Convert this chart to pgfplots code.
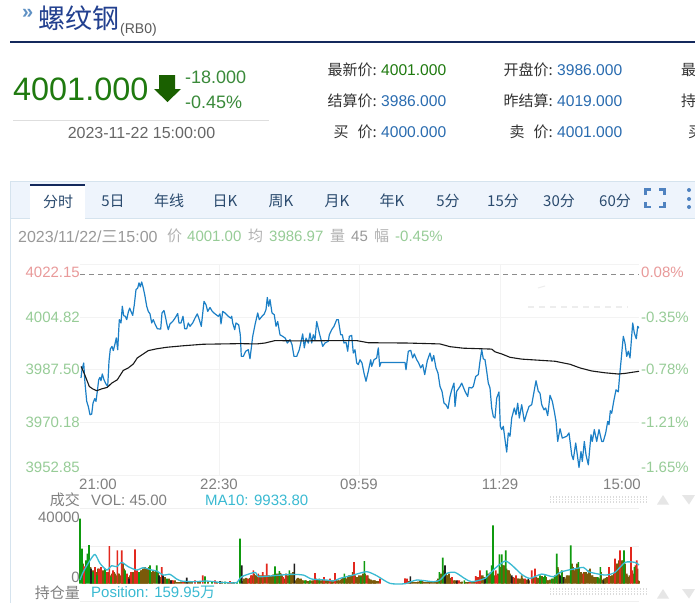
\documentclass[border=0pt]{standalone}
\usepackage{fontspec}
\usepackage{pgfplots}
\pgfplotsset{compat=1.18}
\setmainfont{Liberation Sans}
\newfontfamily\cjk{Noto Sans CJK SC}
\definecolor{navy}{HTML}{14295C}
\definecolor{titleblue}{HTML}{22408F}
\definecolor{upg}{HTML}{1F7A0F}
\definecolor{dg}{HTML}{1A6000}
\definecolor{midg}{HTML}{3A8A3A}
\definecolor{valblue}{HTML}{2A6CB0}
\definecolor{lblack}{HTML}{333333}
\definecolor{tabtxt}{HTML}{2A4A6E}
\definecolor{lgreen}{HTML}{97CC97}
\definecolor{lred}{HTML}{E99A9A}
\definecolor{gtxt}{HTML}{999999}
\definecolor{ctxt}{HTML}{808080}
\definecolor{cy}{HTML}{3ABAD2}
\definecolor{bred}{HTML}{E2281E}
\definecolor{bgreen}{HTML}{0F9A0F}
\definecolor{bblack}{HTML}{1E1E1E}
\definecolor{bolive}{HTML}{7A5A0A}
\definecolor{lineblue}{HTML}{1B7FC6}
\definecolor{tabbg}{HTML}{EEF4FC}
\definecolor{gridc}{HTML}{F3F3F3}
\definecolor{gridd}{HTML}{F0F0F0}
\definecolor{bd}{HTML}{D5E3EE}
\definecolor{ic}{HTML}{4F82C0}
\definecolor{tri}{HTML}{E6E6E6}
\newcommand{\fs}[1]{\fontsize{#1}{#1}\selectfont}
\newcommand{\tx}[6]{\node[anchor=#1,text=#5,inner sep=0pt] at (#2pt,-#3pt) {\fs{#4}#6};}
\newcommand{\rz}[2]{\raisebox{#1}[0pt][0pt]{#2}}
\begin{document}
\begin{tikzpicture}[x=1pt,y=1pt]
\path[use as bounding box,clip] (0,0) rectangle (695,-603);
\fill[white] (0,0) rectangle (695,-603);
% header
\tx{west}{22}{13.5}{20}{valblue!75}{\bfseries »}
\tx{west}{38}{18}{27}{titleblue}{\cjk 螺纹钢}
\tx{west}{120}{30}{14}{black!65}{(RB0)}
\fill[navy] (10,-41) rectangle (695,-43);
\tx{west}{13}{89}{32.4}{upg}{4001.000}
\fill[dg] (159,-75) -- (175,-75) -- (175,-89) -- (181,-89) -- (167.5,-102) -- (154,-89) -- (159,-89) -- cycle;
\tx{west}{185}{77}{18}{midg}{-18.000}
\tx{west}{185}{102}{18}{midg}{-0.45\%}
\draw[black!13,line width=.8pt] (13,-120.5) -- (269,-120.5);
\tx{center}{141.5}{132.5}{16}{black!60}{2023-11-22 15:00:00}
% info table
\tx{east}{377}{70}{15}{lblack}{\cjk 最新价:}
\tx{east}{377}{101}{15}{lblack}{\cjk 结算价:}
\tx{east}{377}{132}{15}{lblack}{\cjk 买\hspace{9pt}价:}
\tx{west}{381}{70.5}{15.6}{upg}{4001.000}
\tx{west}{381}{101.5}{15.6}{valblue}{3986.000}
\tx{west}{381}{132.5}{15.6}{valblue}{4000.000}
\tx{east}{553}{70}{15}{lblack}{\cjk 开盘价:}
\tx{east}{553}{101}{15}{lblack}{\cjk 昨结算:}
\tx{east}{553}{132}{15}{lblack}{\cjk 卖\hspace{9pt}价:}
\tx{west}{557}{70.5}{15.6}{valblue}{3986.000}
\tx{west}{557}{101.5}{15.6}{valblue}{4019.000}
\tx{west}{557}{132.5}{15.6}{valblue}{4001.000}
\tx{west}{681}{70}{15}{lblack}{\cjk 最}
\tx{west}{681}{101}{15}{lblack}{\cjk 持}
\tx{west}{688}{132}{15}{lblack}{\cjk 买}
% tabs
\fill[tabbg] (10,-181) rectangle (695,-218);
\draw[bd,line width=.8pt] (695,-181) -- (10.5,-181) -- (10.5,-603);
\draw[bd,line width=.8pt] (10.5,-218.5) -- (695,-218.5);
\fill[white] (30,-184) rectangle (85,-219);
\fill[navy] (30,-183.5) rectangle (85,-185.5);
\tx{center}{58}{202}{15}{tabtxt}{\cjk 分时}
\tx{center}{113}{201}{15}{tabtxt}{\cjk 5日}
\tx{center}{169}{201}{15}{tabtxt}{\cjk 年线}
\tx{center}{225}{201}{15}{tabtxt}{\cjk 日K}
\tx{center}{281}{201}{15}{tabtxt}{\cjk 周K}
\tx{center}{337}{201}{15}{tabtxt}{\cjk 月K}
\tx{center}{392}{201}{15}{tabtxt}{\cjk 年K}
\tx{center}{448}{201}{15}{tabtxt}{\cjk 5分}
\tx{center}{503}{201}{15}{tabtxt}{\cjk 15分}
\tx{center}{559}{201}{15}{tabtxt}{\cjk 30分}
\tx{center}{615}{201}{15}{tabtxt}{\cjk 60分}
\draw[ic,line width=2.2pt] (645.5,-195) -- (645.5,-189.5) -- (651,-189.5);
\draw[ic,line width=2.2pt] (659,-189.5) -- (664.5,-189.5) -- (664.5,-195);
\draw[ic,line width=2.2pt] (645.5,-202) -- (645.5,-207) -- (651,-207);
\draw[ic,line width=2.2pt] (659,-207) -- (664.5,-207) -- (664.5,-202);
\fill[ic] (689,-190) circle (2); \fill[ic] (689,-199) circle (2); \fill[ic] (689,-207) circle (2);
% info line
\tx{west}{18}{236.5}{16}{gtxt}{2023/11/22/{\cjk 三}15:00}
\tx{west}{167}{236}{15}{black!30}{\cjk 价}
\tx{west}{187}{236.5}{15}{lgreen}{4001.00}
\tx{west}{248}{236}{15}{black!30}{\cjk 均}
\tx{west}{269}{236.5}{15}{lgreen}{3986.97}
\tx{west}{330}{236}{15}{black!30}{\cjk 量}
\tx{west}{351}{236.5}{15}{gtxt}{45}
\tx{west}{374}{236}{15}{black!30}{\cjk 幅}
\tx{west}{395}{236.5}{15}{lgreen}{-0.45\%}
% faint marks in the picture, hatch decoration and triangles
\draw[black!7,line width=1.5pt,dash pattern=on 6pt off 5pt] (528,-307) -- (628,-307);
\draw[black!7,line width=1pt] (538,-288) -- (545,-286);
\foreach \yy in {-497,-499.5,-502,-589,-591.5,-594}{\draw[black!14,line width=1.2pt,dash pattern=on 1.3pt off 1.7pt] (550,\yy) -- (647,\yy);}
\fill[tri] (663,-495) -- (669,-504.5) -- (657,-504.5) -- cycle;
\fill[tri] (682,-495) -- (695,-495) -- (689,-504.5) -- cycle;
\fill[tri] (663,-589) -- (669,-598.5) -- (657,-598.5) -- cycle;
\fill[tri] (682,-589) -- (695,-589) -- (689,-598.5) -- cycle;
% volume panel captions
\tx{east}{80}{500}{15}{ctxt}{\cjk 成交}
\tx{west}{91}{500}{15}{ctxt}{VOL: 45.00}
\tx{west}{205}{500}{15}{cy}{MA10: 9933.80}
\tx{east}{80}{592.5}{15}{ctxt}{\cjk 持仓量}
\tx{west}{91}{592.5}{15}{cy}{Position: 159.95{\cjk 万}}

% right-hand percent labels
\begin{axis}[at={(80pt,-475pt)},anchor=south west,width=559pt,height=210.5pt,scale only axis,
  xmin=0,xmax=559,ymin=3952.85,ymax=4022.15,
  axis line style={draw=none},major tick length=0pt,xtick=\empty,
  ytick={3952.85,3970.18,3987.50,4004.82,4022.15},
  yticklabel pos=right,
  yticklabel style={inner sep=0pt,xshift=2pt},
  yticklabels={\rz{2.6pt}{\textcolor{lgreen}{\fs{15}-1.65\%}},\textcolor{lgreen}{\fs{15}-1.21\%},\textcolor{lgreen}{\fs{15}-0.78\%},\textcolor{lgreen}{\fs{15}-0.35\%},\rz{-12.9pt}{\textcolor{lred}{\fs{15}0.08\%}}}]
\end{axis}

% price panel
\begin{axis}[at={(80pt,-475pt)},anchor=south west,width=559pt,height=210.5pt,scale only axis,
  xmin=0,xmax=559,ymin=3952.85,ymax=4022.15,
  axis line style={draw=none},major tick length=0pt,
  grid=major,grid style={line width=.7pt,gridc},
  xtick={139,279,420},xticklabels={22:30,09:59,11:29},
  extra x ticks={18,542},extra x tick labels={21:00,15:00},extra x tick style={grid=none},
  xticklabel style={text=ctxt,font=\fs{15},inner sep=0pt,yshift=-3.5pt},
  ytick={3952.85,3970.18,3987.50,4004.82,4022.15},
  yticklabel style={inner sep=0pt,xshift=0pt},
  yticklabels={\rz{2.6pt}{\textcolor{lgreen}{\fs{15}3952.85}},\textcolor{lgreen}{\fs{15}3970.18},\textcolor{lgreen}{\fs{15}3987.50},\textcolor{lgreen}{\fs{15}4004.82},\rz{-12.9pt}{\textcolor{lred}{\fs{15}4022.15}}}]
\addplot[black!45,line width=.8pt,dash pattern=on 5pt off 4pt] coordinates {(0,4019)(559,4019)};
\addplot[lineblue,line width=1.2pt,line join=round] coordinates {
(1,3984.8)(2,3987.5)(3.7,3989.7)(5,3983.1)(6.7,3977.1)(8.3,3975.4)(10,3972.7)(11.7,3972.9)(13,3976.5)(14.7,3978)(16,3977.1)(17.3,3980.4)(18.7,3984.2)(20,3985)(21,3983.9)(22.3,3986.1)(24,3984.2)(26,3982.8)(27.7,3982)(29,3990.3)(30.3,3994.3)(32,3995.2)(33.3,3993.8)(35,3996)(36.3,3998)(37.7,3994.1)(39.3,4004)(41,4002.9)(42.3,4008.4)(43.7,4005.3)(45.3,4005.1)(46.7,4004)(48.3,4006.5)(49.7,4007.8)(51,4006.7)(52.7,4005.4)(54.3,4008.9)(56,4013.9)(57.7,4014.4)(59,4016.1)(60.3,4014.8)(61.7,4016.4)(63.3,4014.4)(65,4011.7)(66.7,4008.4)(68.3,4006.7)(70,4005.9)(71.7,4002.9)(73.3,4004)(75,4002.6)(77.3,4001)(80.7,4000.9)(82,4006.2)(84,4007)(85.7,4004.5)(87,4002.3)(88.3,4000.7)(90,4002.6)(92.7,4003.4)(95,4004.5)(97.7,4006)(99,4002.9)(101,4002.9)(103,4005.1)(104.7,4001)(106.7,4001)(108.3,4002.9)(110,4001.8)(112.7,4002.9)(115,4004.5)(117.3,4005.9)(119.3,4004)(121.3,4001.8)(124,4010)(126,4008.9)(127.7,4006.7)(130,4008)(132.3,4006.7)(135,4005.9)(138.3,4005.1)(140,4005.9)(141,4002.6)(142.7,4006.7)(145,4006.2)(148.3,4005.1)(150.7,4004.5)
(151.7,4005.1)(152.7,4002.9)(154.7,4000.7)(156,4002.9)(158.7,4002.3)(160.3,3999)(161.3,3991.9)(163.3,3991.9)(165.7,3993.6)(168.3,3994.1)(170,3991.1)(172.7,3998.5)(175,4002.3)(177.7,4006.2)(179.3,4004)(182,4005.1)(184.3,4005.9)(186,4007.3)(187.3,4011.3)(188.7,4008.4)(190,4010.6)(192,4006.2)(194.3,4005.6)(196,4001.8)(197.7,4003.4)(200,3999)(202.7,3998.5)(205.3,3997.9)(207.3,3996.3)(210,3997.4)(212,3995.8)(214,3991.9)(216.7,3991.9)(219.3,3994.1)(222.7,3999.3)(224.3,3994.7)(226,3997.9)(228.3,3996.3)(230,3999.6)(231.7,3996.3)(233.3,3999)(235,3997.4)(236.7,4003.4)(239.3,3999.6)(242.7,3995.2)(245,3996.3)(248.3,3996.9)(249.3,3999)(251.7,4000.7)(254,4001.8)(256.7,4004)(258.3,4004)(260.7,3999)(262.3,3999)(264,3996.3)(266,3996.6)(267.7,3993.6)(269.3,3998.5)(271.7,3998.8)(273.3,3993)(275,3994.1)(276.7,3989.7)(278.3,3989.2)(280,3990.8)(282,3989.7)(284,3986.4)(286,3983.7)(288.3,3987)(290.7,3990.8)(291.7,3988.6)(294,3990.8)(296.7,3991.4)(298.3,3994.7)(299.7,3988.6)(301,3989.9)(325,3989.9)(326,3987.5)(328.3,3993.6)(330.7,3993.9)(332.7,3991.4)(334.3,3992.7)(336.7,3990.8)(338.7,3989.7)(340.7,3988.1)(342.7,3989.2)(344.7,3985.9)(347.3,3990.5)(350,3993)(352,3990.3)(353.7,3992.2)(356,3988.1)(358,3986.4)(360,3982)(362,3980.4)(364,3976.5)(366,3976)(368,3974.7)(370,3978.7)(371.7,3980.9)(374,3983.1)
(375,3975.4)(376.7,3980.4)(380,3982)(381.7,3983.1)(385,3980.4)(387.7,3978.7)(389,3981.7)(391.7,3981.5)(393.3,3982)(395.7,3985.3)(398.3,3985.9)(400,3990.3)(401.7,3994.1)(403.3,3991.1)(405,3990.8)(406.7,3987)(408.3,3983.1)(410,3981.5)(411.7,3974.9)(413.3,3972.1)(415,3971.6)(416.7,3978.2)(419,3980.2)(420.3,3968.9)(421.7,3967.8)(423.3,3968.9)(425,3964.5)(426.7,3960.4)(428.3,3966.7)(430,3965.6)(431.7,3971.6)(434.3,3974.9)(436,3972.7)(437.7,3976.5)(439.3,3971.6)(441.7,3976)(444.3,3970.5)(446.7,3973.2)(449,3975.4)(451.7,3976)(456,3983.9)(458.3,3980.4)(460,3979.8)(461.7,3976)(464,3974.3)(465.7,3974.9)(467.7,3972.4)(470,3979.1)(472.3,3977.1)(474.3,3973.8)(476,3970.5)(477.7,3963.9)(480,3968.1)(482.3,3965)(486.7,3965.6)(489,3966.7)(491.7,3959.5)(493.3,3957.9)(495.7,3963.4)(497.3,3959.5)(499,3955.3)(501,3960.6)(502.3,3957.3)(504.3,3963.9)(506,3959.5)(508.3,3956.2)(511,3966.1)(512.3,3963.9)(514.3,3967.8)(516.7,3963.9)(519,3967.8)(521.7,3963.9)(523.3,3963.9)(525.7,3966.7)(527.7,3970.5)(529,3969.4)(530.3,3974)(531.7,3973.2)(533.7,3977.1)(536,3980.9)(538.3,3980.2)(539.7,3985.9)(541,3990.3)(543.3,3998.5)(545,3996.3)(546.7,3991.9)(548.3,3993.6)(550,3991.4)(552.7,4002.9)(554.3,3999.6)(556.3,3997.7)(557.7,4001.8)(559,4001.2)};
\addplot[black!90,line width=1.1pt,line join=round] coordinates {
(1,3988.6)(3.3,3987)(6,3984.8)(9.3,3982)(12.7,3981.2)(16.7,3980.6)(21.7,3981.2)(27.3,3981.7)(31.7,3983.1)(37.3,3984.2)(43.3,3987.3)(48.3,3988.1)(53.3,3989.4)(57.3,3991.4)(63.3,3992.7)(68.3,3993.8)(76.7,3994.4)(86.7,3994.9)(103.3,3995.4)(123.3,3995.9)(160,3996.1)(176.7,3996)(185,3996.3)(195,3997.1)(216.7,3997)(260,3997.1)(276.7,3997.1)(288.3,3996.4)(326.7,3996.3)(360,3996)(370,3995.1)(383.3,3994.6)(411.7,3994.3)(415,3993.4)(421.7,3992.7)(430,3991.6)(441.7,3991)(475,3990.3)(490,3989.3)(500,3988.1)(511.7,3987.1)(525,3986.5)(538.3,3986.1)(545,3986.3)(559,3987)};
\end{axis}

% volume panel
\begin{axis}[at={(80pt,-601.7pt)},anchor=south west,width=559pt,height=93.4pt,scale only axis,
  xmin=0,xmax=559,ymin=-10800,ymax=45240,
  axis line style={draw=none},major tick length=0pt,xtick=\empty,
  scaled y ticks=false,
  ytick={0,40000},
  yticklabels={\rz{1.1pt}{\textcolor{ctxt}{\fs{15}0}},\textcolor{ctxt}{\fs{15}40000}},
  yticklabel style={inner sep=0pt},
  extra y ticks={-10800,22620,45240},extra y tick labels={{},{},{}},
  extra y tick style={grid=major,grid style={line width=1pt,gridd}},
  clip=false]
\addplot[ybar,bar width=1.6pt,bar shift=0pt,draw=none,fill=bolive] coordinates {(3,12000)(5,9000)(10.5,10000)(12,8000)(14,8000)(16,7000)(18,9000)(20,6000)(22,6000)(24,7000)(26,6000)(28,7000)(30,5000)(32,6000)(34,7000)(36,5000)(38,6000)(40,5000)(42,6000)(44,9000)(46,5000)(48,4000)(50,5000)(52,6000)(54,7000)(56,7000)(58,7000)(60,7000)(62,8000)(64,9000)(66,9000)(68,8000)(69,10000)(72,7000)(75.5,8000)(80,4000)(82,4500)(84,3000)(86,2500)(88,2500)(90,2000)(92,2000)(94,1500)(163,1500)(165,2500)(167,3000)(170,3500)(172,5000)(174,6000)(176,5000)(177,4000)(179,5000)(181,5000)(183,5000)(185,5000)(187.5,5000)(190,4500)(192,5000)(194,5500)(196,6000)(198,6000)(200,6500)(202,5000)(204,3000)(207,4000)(208,5000)(210,6000)(212,6000)(213,7000)(217,3000)(219,3000)(221,3000)(223,2000)(226,2000)(229,1500)(232,1800)(234,2000)(236,3000)(238,2500)(240,2000)(243,2500)(245,2000)(248,2000)(251,1500)(253,2000)(256,2500)(259,2000)(262,3000)(263,4000)(265,4000)(266,3000)(268,4000)(269,5000)(271,5000)(273.5,6000)(275,5000)(277.7,4000)(279,5000)(281,5000)(283,6000)(285,6000)(287.7,5000)(288,3000)(290,2500)(292,2000)(293,2000)(295,2000)(329,1500)(331.5,1500)(335,1000)(338,1200)(340,1500)(342,1500)(345,1000)(349,1000)(352,1000)(356,1500)(358,3000)(361,6000)(363.5,8000)(364,7000)(366,6000)(368,5000)(370,3000)(373,2000)(374,2000)(377,1500)(382,1200)(385,1000)(388,1000)(394,1500)(396.7,3000)(399,4000)(401,5000)(404,4000)(407.5,5000)(408,6000)(410.5,7000)(412,8000)(418,6000)(420.5,10000)(422.5,11000)(424,11000)(426.5,9000)(428,8000)(430,6000)(432.5,4000)(434,3500)(437,3000)(439,3000)(440,3000)(442,3500)(444,2000)(446,1500)(449,2000)(453,4000)(456,4000)(458,3500)(459,3000)(461,4500)(464,4000)(466,4000)(468,2000)(470,2500)(473,3000)(475,5000)(478,9000)(479,6000)(482,7000)(484.5,4000)(485,3000)(488,5000)(489,5000)(491.5,10000)(493,10000)(495.5,9000)(496,9000)(498,11000)(499,10000)(501,7000)(502,6000)(504,7000)(506,7000)(507,6000)(509,8000)(512.5,5000)(514,4000)(516,4000)(518.5,3500)(519,3000)(521,7000)(522,2500)(524,3000)(526,3500)(527,4000)(528,4000)(530,4500)(532.5,5000)(534,6000)(536,10000)(537.5,12000)(539,14000)(541,12000)(543,14000)(545,12000)(547.5,5000)(549,4000)(550,5000)(553,6000)(555.5,11000)(557.5,9000)(559,1500)};
\addplot[ybar,bar width=1.6pt,bar shift=0pt,draw=none,fill=bolive] coordinates {(23,8000)(35,6000)(39,6000)(43,12000)(53,7000)(61,8000)(63,9000)(65,10000)(67,9000)(71,6000)(73,8000)(74.5,7000)(78,7000)(85,4000)(89,3000)(95,2000)(97,1000)(99,1000)(101,1200)(105,1000)(108,1500)(110,1000)(112,1300)(118,1500)(120,1000)(128,1200)(137,1000)(142,1200)(148,800)(152,1000)(154,1000)(164,3000)(166,3500)(175,5000)(180,4000)(189,5000)(191,4000)(193,5500)(197,5000)(201,6000)(206,6000)(211,6000)(216,2000)(218,3500)(220,2500)(222,2000)(228,1500)(233,1800)(237,2500)(242,2000)(247,2000)(252,1500)(258,2000)(261,2500)(267,3000)(270,5000)(272.7,7000)(276.7,4000)(278,3500)(282,3000)(289,3000)(291,2500)(294,2000)(296,1500)(298,1500)(333,1000)(336.7,1000)(343,1200)(347,1000)(350,1000)(354,1000)(357,2000)(360.5,3000)(367,5000)(369,6000)(371,3500)(375,2000)(381,1000)(386.7,1000)(392,1500)(402.7,5000)(409.3,6000)(414.5,5000)(423,11000)(427,8000)(429,8000)(435,3000)(438,3000)(441.7,5000)(443,3000)(447,2500)(457,3500)(462,4500)(467.7,2000)(477.7,10000)(486.7,5000)(492,12000)(494.3,8000)(497,12000)(500,6000)(505,7000)(510,9000)(511.7,5000)(515,4000)(525,3000)(531.7,5000)(536.7,12000)(541.7,14000)(546.7,6000)(548.3,3000)(558.3,2000)};
\addplot[ybar,bar width=1.6pt,bar shift=0pt,draw=none,fill=bgreen] coordinates {(0,39000)(2,21000)(6,14000)(7.5,18000)(9,23200)(13,7000)(17,5000)(25,9000)(31,4000)(45,8000)(59,7000)(70,11000)(76.7,11000)(87,3000)(125,4400)(132,1000)(145,1200)(157,1000)(160,27000)(195,10400)(199.3,7600)(209.3,8000)(225,2000)(230,2000)(239.3,3000)(264.3,6000)(280.7,4000)(284.3,13600)(340.7,2000)(359.3,7000)(362.7,15600)(384.3,2000)(406.7,8000)(411.7,11000)(413,35000)(419.3,17600)(421.7,17600)(425.7,20000)(460,5000)(463.3,4000)(465,5000)(471.7,3000)(474.3,4000)(476.7,18000)(481.7,8000)(490.7,23000)(498.3,13000)(517.7,4000)(520.3,10000)(544,20000)(554.3,10000)};
\addplot[ybar,bar width=1.6pt,bar shift=0pt,draw=none,fill=bred] coordinates {(4,10400)(15,10000)(19,9000)(21,10000)(27,7000)(29.3,22600)(33,8000)(37.3,20000)(41.7,20000)(47,6000)(51,7000)(55,20600)(57,8000)(81.7,10000)(93,2000)(103,1500)(115,2000)(122.7,5000)(135,2000)(150,1500)(168,3000)(171,5000)(173.3,8000)(178.3,6000)(182.7,7000)(186.7,12000)(203,4000)(205.7,5000)(235,6400)(244,4000)(250,3000)(255,6400)(274,13000)(286.7,5000)(300,3000)(325,3200)(327,3000)(372,4000)(378,2000)(379.3,2000)(390,1000)(395.7,4600)(397.7,4000)(400,8000)(415.7,8000)(417,5000)(433.3,4000)(436,5000)(445,3000)(451.7,8000)(455,9000)(503.3,6000)(529,10000)(535,15000)(540,20000)(551,22000)(552.3,8000)(556.7,14000)};
\addplot[ybar,bar width=1.6pt,bar shift=0pt,draw=none,fill=bblack] coordinates {(11,9000)(49,3000)(79,5000)(83,5000)(91,2000)(106.7,3600)(140,1500)(161.7,11000)(214.3,12000)(330.3,4400)(365,11000)(376.7,2000)(405,3000)(431.7,5000)(448.3,3000)(480,5000)(483.3,4000)(523.3,2000)};
\addplot[cy,line width=1.3pt,line join=round,smooth,tension=.4] coordinates {(0,2200)(1.7,5000)(5,9000)(10,14000)(15,17600)(20,12200)(26.7,8200)(31.7,10800)(36.7,10200)(41.7,12800)(48.3,10200)(56.7,8200)(63.3,9600)(71.7,8200)(76.7,7600)(83.3,5200)(90,5600)(96.7,2800)(101.7,1600)(113.3,1200)(126.7,1600)(140,800)(150,600)(156.7,600)(161.7,4200)(175,6800)(178.3,4200)(193.3,4800)(210,5600)(223.3,5200)(231.7,2800)(246.7,2200)(253.3,1600)(260,3200)(273.3,5200)(286.7,7200)(296.7,4800)(310,200)(325,0)(336.7,2200)(353.3,1200)(360,2200)(366.7,6200)(375,6800)(385,3000)(391.7,1200)(405,3200)(415,9200)(425,13600)(431.7,11200)(441.7,5600)(450,3200)(461.7,5800)(473.3,4200)(481.7,7200)(503.3,9800)(508.3,7200)(525,5200)(535,6800)(545,12800)(555,12800)(559,11200)};
\end{axis}
\end{tikzpicture}
\end{document}
